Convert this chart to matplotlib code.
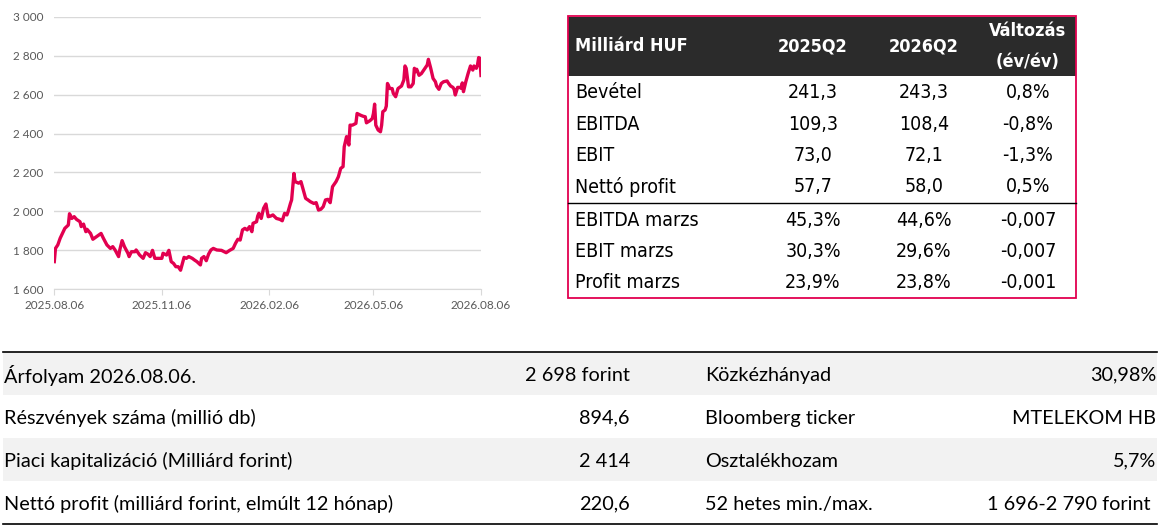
import matplotlib
matplotlib.use("Agg")
import matplotlib.pyplot as plt
import matplotlib.dates as mdates
from matplotlib.patches import Rectangle
from matplotlib.ticker import FuncFormatter, MultipleLocator
import pandas as pd

# share price (days after 2025.08.06, HUF)
start_date = "2025-08-06"
day_offsets = [0, 1, 3, 5, 7, 9, 12, 13, 15, 17, 19, 22, 23, 25, 27, 28, 31, 33, 36, 40,
               42, 45, 48, 50, 52, 55, 56, 58, 60, 63, 64, 66, 69, 70, 73, 76, 78, 80, 82, 84,
               86, 89, 92, 93, 96, 98, 100, 102, 104, 106, 108, 110, 111, 113, 115, 118, 120, 122, 125, 126,
               128, 130, 132, 134, 136, 139, 143, 147, 150, 153, 155, 157, 159, 161, 163, 165, 167, 169, 170, 173,
               174, 175, 177, 179, 181, 183, 185, 187, 190, 193, 195, 197, 199, 200, 202, 203, 205, 206, 209, 211,
               213, 215, 217, 219, 222, 224, 226, 228, 230, 232, 234, 236, 238, 241, 243, 245, 247, 248, 250, 252,
               253, 255, 258, 259, 262, 264, 266, 267, 270, 272, 273, 274, 275, 277, 279, 280, 281, 283, 284, 285,
               287, 289, 290, 292, 294, 297, 299, 300, 301, 303, 305, 307, 308, 309, 310, 312, 314, 316, 319, 320,
               322, 324, 326, 327, 329, 331, 333, 336, 337, 339, 341, 342, 343, 345, 347, 348, 349, 350, 352, 354,
               356, 358, 359, 361, 362, 363, 364, 365]
prices = [1742, 1810, 1828, 1862, 1887, 1913, 1930, 1988, 1964, 1973, 1959, 1947, 1922, 1935, 1896, 1908, 1887, 1857, 1870, 1887,
          1862, 1828, 1810, 1819, 1802, 1768, 1802, 1850, 1819, 1785, 1768, 1793, 1793, 1802, 1776, 1759, 1788, 1781, 1768, 1800,
          1759, 1759, 1759, 1785, 1776, 1800, 1742, 1733, 1716, 1716, 1698, 1742, 1764, 1759, 1768, 1759, 1750, 1742, 1725, 1759,
          1768, 1747, 1781, 1802, 1810, 1802, 1800, 1788, 1800, 1810, 1836, 1857, 1853, 1905, 1913, 1905, 1922, 1896, 1939, 1947,
          1976, 1990, 1964, 2016, 2038, 1973, 1976, 1982, 1964, 1959, 1952, 1990, 1982, 1999, 2041, 2059, 2195, 2153, 2145, 2153,
          2110, 2067, 2059, 2050, 2041, 2045, 2007, 2011, 2024, 2059, 2062, 2045, 2127, 2153, 2178, 2221, 2230, 2332, 2384, 2341,
          2443, 2443, 2452, 2503, 2494, 2489, 2486, 2455, 2466, 2477, 2503, 2551, 2443, 2418, 2409, 2443, 2512, 2521, 2541, 2657,
          2631, 2631, 2606, 2589, 2631, 2644, 2675, 2747, 2735, 2640, 2640, 2657, 2735, 2718, 2730, 2699, 2708, 2726, 2752, 2781,
          2735, 2683, 2666, 2644, 2627, 2657, 2666, 2670, 2660, 2644, 2637, 2627, 2598, 2637, 2637, 2632, 2660, 2615, 2666, 2709,
          2747, 2726, 2747, 2735, 2752, 2790, 2786, 2698]
tick_dates = ["2025-08-06", "2025-11-06", "2026-02-06", "2026-05-06", "2026-08-06"]

# quarterly results table
fin_header = ["Milliárd HUF", "2025Q2", "2026Q2", "Változás", "(év/év)"]
fin_items = ["Bevétel", "EBITDA", "EBIT", "Nettó profit", "EBITDA marzs", "EBIT marzs", "Profit marzs"]
q2_2025 = ["241,3", "109,3", "73,0", "57,7", "45,3%", "30,3%", "23,9%"]
q2_2026 = ["243,3", "108,4", "72,1", "58,0", "44,6%", "29,6%", "23,8%"]
yoy_change = ["0,8%", "-0,8%", "-1,3%", "0,5%", "-0,007", "-0,007", "-0,001"]

# key data table
info_left_labels = ["Árfolyam 2026.08.06.", "Részvények száma (millió db)",
                    "Piaci kapitalizáció (Milliárd forint)", "Nettó profit (milliárd forint, elmúlt 12 hónap)"]
info_left_values = ["2 698 forint", "894,6", "2 414", "220,6"]
info_right_labels = ["Közkézhányad", "Bloomberg ticker", "Osztalékhozam", "52 hetes min./max."]
info_right_values = ["30,98%", "MTELEKOM HB", "5,7%", "1 696-2 790 forint "]

RED = "#e2004f"
DARK = "#2b2b2b"
GRID = "#d9d9d9"
W, H = 1168, 529

plt.rcParams["font.family"] = ["Lato", "DejaVu Sans"]
fig = plt.figure(figsize=(W / 100, H / 100), dpi=100)

# --- price chart
ax = fig.add_axes([54.3 / W, 1 - 289.3 / H, (481 - 54.3) / W, (289.3 - 16.7) / H])
dates = pd.Timestamp(start_date) + pd.to_timedelta(day_offsets, unit="D")
ax.plot(dates, prices, color=RED, lw=2.4, solid_joinstyle="round")
ax.set_ylim(1600, 3000)
ax.set_xlim(pd.Timestamp(tick_dates[0]), pd.Timestamp(tick_dates[-1]))
ax.yaxis.set_major_locator(MultipleLocator(200))
ax.yaxis.set_major_formatter(FuncFormatter(lambda v, p: f"{int(v):,}".replace(",", " ")))
ax.set_xticks(pd.to_datetime(tick_dates))
ax.xaxis.set_major_formatter(mdates.DateFormatter("%Y.%m.%d"))
ax.grid(axis="y", color=GRID, lw=1)
ax.set_axisbelow(True)
for s in ["top", "right", "left"]:
    ax.spines[s].set_visible(False)
ax.spines["bottom"].set_color(GRID)
ax.tick_params(axis="y", length=0, pad=8, labelsize=8.5, labelcolor="#595959")
ax.tick_params(axis="x", length=4, color=GRID, pad=4, labelsize=8.5, labelcolor="#595959")

# --- overlay in pixel units for the two tables
tax = fig.add_axes([0, 0, 1, 1])
tax.set_xlim(0, W)
tax.set_ylim(H, 0)
tax.axis("off")

# quarterly table
tfont = dict(family=["DejaVu Sans"], fontstretch="condensed")
tx0, tx1, ty0, ty1 = 568, 1076, 16, 298
tax.add_patch(Rectangle((tx0, 17), tx1 - tx0, 59, facecolor=DARK, edgecolor="none"))
tax.add_patch(Rectangle((tx0, ty0), tx1 - tx0, ty1 - ty0, facecolor="none", edgecolor=RED, lw=1.3))
col_x = [575, 813, 924, 1028]
hkw = dict(color="white", fontsize=13, fontweight="bold", va="center", **tfont)
tax.text(col_x[0], 46, fin_header[0], ha="left", **hkw)
tax.text(col_x[1], 46, fin_header[1], ha="center", **hkw)
tax.text(col_x[2], 46, fin_header[2], ha="center", **hkw)
tax.text(col_x[3], 31, fin_header[3], ha="center", **hkw)
tax.text(col_x[3], 62, fin_header[4], ha="center", **hkw)
row_y = [92.5, 124, 155.5, 187, 220, 251.5, 283]
for y, lab, a, b, c in zip(row_y, fin_items, q2_2025, q2_2026, yoy_change):
    tax.text(col_x[0], y, lab, fontsize=14, ha="left", va="center", color="black", **tfont)
    for cx, v in zip(col_x[1:], [a, b, c]):
        tax.text(cx, y, v, fontsize=14, ha="center", va="center", color="black", **tfont)
tax.plot([tx0, tx1], [203, 203], color="black", lw=1)

# key data table
bx0, bx1, by0, rh = 3, 1157, 352, 43.1
for i in range(len(info_left_labels)):
    top = by0 + i * rh
    if i % 2 == 0:
        tax.add_patch(Rectangle((bx0, top), bx1 - bx0, rh, facecolor="#f2f2f2", edgecolor="none"))
    yc = top + rh / 2 + 1.5
    tax.text(4, yc, info_left_labels[i], fontsize=14.3, ha="left", va="center")
    tax.text(630, yc, info_left_values[i], fontsize=14.3, ha="right", va="center")
    tax.text(705, yc, info_right_labels[i], fontsize=14.3, ha="left", va="center")
    tax.text(1156, yc, info_right_values[i], fontsize=14.3, ha="right", va="center")
tax.plot([bx0, bx1], [by0 - 0.5, by0 - 0.5], color="black", lw=1.2)
tax.plot([bx0, bx1], [by0 + 4 * rh, by0 + 4 * rh], color="black", lw=1.2)

fig.savefig("out.png", dpi=100)
